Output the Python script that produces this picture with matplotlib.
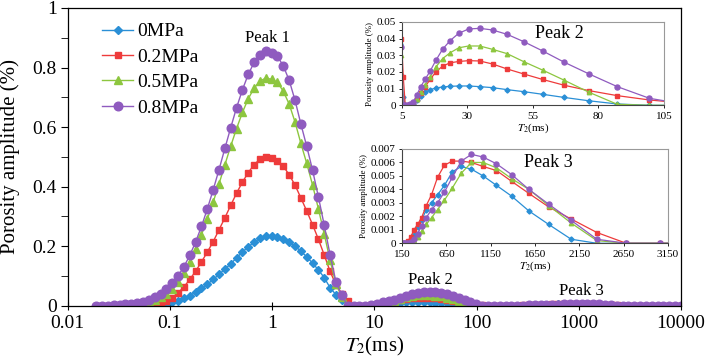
import matplotlib
matplotlib.use("Agg")
import matplotlib.pyplot as plt
from matplotlib.ticker import MultipleLocator, NullLocator

plt.rcParams['font.family'] = ['Liberation Serif', 'DejaVu Serif']
plt.rcParams['mathtext.fontset'] = 'stix'

# T2 grid (ms) of the NMR inversion
t2 = [0.0190, 0.02168, 0.02472, 0.02820, 0.03218, 0.03671, 0.04188, 0.04778, 0.05451, 0.06219,
      0.07095, 0.08094, 0.09234, 0.1053, 0.1202, 0.1371, 0.1564, 0.1784, 0.2035, 0.2322,
      0.2649, 0.3022, 0.3447, 0.3933, 0.4487, 0.5118, 0.5839, 0.6662, 0.7600, 0.8670,
      0.9888, 1.128, 1.287, 1.468, 1.675, 1.911, 2.180, 2.487, 2.837, 3.236,
      3.692, 4.212, 4.805, 5.482, 6.254, 7.135, 8.139, 9.285, 10.59, 12.08,
      13.79, 15.73, 17.94, 20.47, 23.35, 26.64, 30.39, 34.67, 39.55, 45.12,
      51.47, 58.72, 66.99, 76.42, 87.18, 99.45, 113.5, 129.4, 147.6, 168.4,
      192.1, 219.2, 250.0, 285.2, 325.4, 371.2, 423.5, 483.1, 551.1, 628.7,
      717.3, 818.3, 933.5, 1065, 1215, 1386, 1581, 1804, 2058, 2348,
      2679, 3056, 3486, 3977, 4537, 5176, 5904, 6736, 7684, 8766,
      10000]

amp_0mpa = [0, 0, 0, 0, 0, 0, 0, 0, 0, 0,
            0.002, 0.004, 0.007, 0.011, 0.017, 0.025, 0.034, 0.045, 0.058, 0.072,
            0.088, 0.105, 0.123, 0.14, 0.161, 0.18, 0.198, 0.213, 0.226, 0.234,
            0.235, 0.232, 0.225, 0.214, 0.2, 0.183, 0.164, 0.143, 0.12, 0.094,
            0.06, 0.037, 0.018, 0.005, 0, 0, 0, 0.001, 0.003, 0.0055,
            0.0078, 0.0094, 0.0104, 0.011, 0.0114, 0.0116, 0.0116, 0.0112, 0.0106, 0.0094,
            0.0082, 0.0066, 0.0047, 0.0027, 0.0008, 0, 0, 0, 0, 0,
            0, 0, 0.0002, 0.0006, 0.0012, 0.0017, 0.0025, 0.003, 0.0036, 0.0043,
            0.0053, 0.0057, 0.0055, 0.005, 0.0043, 0.0035, 0.0024, 0.0014, 0.0003, 0,
            0, 0, 0, 0, 0, 0, 0, 0, 0, 0,
            0]

amp_02mpa = [0, 0, 0, 0, 0, 0, 0, 0, 0, 0.002,
             0.005, 0.01, 0.017, 0.027, 0.043, 0.063, 0.088, 0.116, 0.147, 0.18,
             0.215, 0.255, 0.295, 0.337, 0.378, 0.415, 0.447, 0.474, 0.492, 0.5,
             0.497, 0.487, 0.468, 0.44, 0.405, 0.362, 0.318, 0.272, 0.223, 0.17,
             0.115, 0.07, 0.04, 0.017, 0, 0, 0, 0.001, 0.004, 0.0075,
             0.011, 0.0155, 0.02, 0.0235, 0.0255, 0.0263, 0.0268, 0.0266, 0.0248, 0.0218,
             0.0188, 0.0155, 0.012, 0.0088, 0.0058, 0.0032, 0.0012, 0, 0, 0,
             0, 0.0002, 0.0005, 0.001, 0.0014, 0.0019, 0.0028, 0.0036, 0.0049, 0.0058,
             0.0061, 0.0061, 0.006, 0.0057, 0.0054, 0.0046, 0.0037, 0.0027, 0.0018, 0.0008,
             0, 0, 0, 0, 0, 0, 0, 0, 0, 0,
             0]

amp_05mpa = [0, 0, 0, 0, 0, 0, 0.003, 0.005, 0.008, 0.012,
             0.019, 0.028, 0.04, 0.057, 0.08, 0.11, 0.148, 0.191, 0.238, 0.291,
             0.348, 0.409, 0.473, 0.536, 0.595, 0.649, 0.695, 0.731, 0.754, 0.765,
             0.76, 0.75, 0.72, 0.677, 0.617, 0.545, 0.478, 0.405, 0.325, 0.24,
             0.152, 0.072, 0.03, 0, 0, 0, 0, 0.001, 0.004, 0.008,
             0.012, 0.017, 0.023, 0.028, 0.0315, 0.0345, 0.0356, 0.0356, 0.0336, 0.031,
             0.0262, 0.0211, 0.015, 0.0078, 0.0006, 0, 0, 0, 0, 0,
             0, 0, 0, 0.0002, 0.0005, 0.0009, 0.0014, 0.0019, 0.0025, 0.0032,
             0.0041, 0.0052, 0.006, 0.006, 0.0056, 0.0048, 0.004, 0.0028, 0.0015, 0.0002,
             0, 0, 0, 0, 0, 0, 0, 0, 0, 0,
             0]

amp_08mpa = [0, 0, 0, 0.001, 0.002, 0.004, 0.006, 0.009, 0.013, 0.019,
             0.028, 0.039, 0.055, 0.075, 0.1, 0.131, 0.169, 0.214, 0.266, 0.325,
             0.389, 0.457, 0.528, 0.598, 0.665, 0.725, 0.777, 0.817, 0.843, 0.855,
             0.85, 0.838, 0.805, 0.757, 0.69, 0.61, 0.535, 0.455, 0.365, 0.27,
             0.17, 0.08, 0.035, 0, 0, 0, 0.0005, 0.002, 0.006, 0.011,
             0.0155, 0.0205, 0.027, 0.0336, 0.0388, 0.0432, 0.0458, 0.0462, 0.0452, 0.0426,
             0.0382, 0.0326, 0.0258, 0.0188, 0.0112, 0.0042, 0.0005, 0, 0, 0,
             0, 0, 0.0001, 0.0003, 0.0007, 0.0013, 0.0019, 0.0025, 0.003, 0.0038,
             0.0049, 0.0061, 0.0066, 0.0064, 0.0059, 0.0051, 0.004, 0.0029, 0.0017, 0.0003,
             0, 0, 0, 0, 0, 0, 0, 0, 0, 0,
             0]

labels = ['0MPa', '0.2MPa', '0.5MPa', '0.8MPa']
colors = ['#2a8fd6', '#ee3b3b', '#8dc63f', '#8f5bbf']
markers = ['D', 's', '^', 'o']
series = [amp_0mpa, amp_02mpa, amp_05mpa, amp_08mpa]

main_ms = [4.2, 4.5, 5.5, 6.2]
inset_ms = [2.6, 2.8, 3.2, 3.6]

fig = plt.figure(figsize=(7.06, 3.63), dpi=100)

# main chart
ax = fig.add_axes([0.0959, 0.1579, 0.8687, 0.8201])
for y, c, m, lab, ms in zip(series, colors, markers, labels, main_ms):
    ax.plot(t2, y, color=c, marker=m, ms=ms, mec=c, lw=1.0, label=lab)

ax.set_xscale('log')
ax.set_xlim(0.01, 10000)
ax.set_ylim(0, 1)
xt = [0.01, 0.1, 1, 10, 100, 1000, 10000]
ax.set_xticks(xt)
ax.set_xticklabels(['0.01', '0.1', '1', '10', '100', '1000', '10000'])
ax.xaxis.set_minor_locator(NullLocator())
ax.set_yticks([0, 0.2, 0.4, 0.6, 0.8, 1.0])
ax.set_yticklabels(['0', '0.2', '0.4', '0.6', '0.8', '1'])
ax.yaxis.set_minor_locator(MultipleLocator(0.1))
ax.tick_params(axis='x', direction='inout', length=6, labelsize=14, pad=4)
ax.tick_params(axis='y', which='both', direction='out', length=5, labelsize=14, pad=3)
for s in ax.spines.values():
    s.set_linewidth(0.9)
ax.set_xlabel('$T_2$(ms)', fontsize=15)
ax.xaxis.set_label_coords(0.5, -0.1)
ax.set_ylabel('Porosity amplitude (%)', fontsize=15)
ax.yaxis.set_label_coords(-0.077, 0.5)

ax.legend(loc='upper left', bbox_to_anchor=(0.056, 0.95), frameon=False,
          fontsize=14, handlelength=1.6, handletextpad=0.2, labelspacing=0.4,
          borderpad=0, borderaxespad=0)

ax.text(0.89, 0.9, 'Peak 1', fontsize=12, ha='center', va='center')
ax.text(35, 0.085, 'Peak 2', fontsize=12, ha='center', va='center')
ax.text(1070, 0.048, 'Peak 3', fontsize=12, ha='center', va='center')


def style_inset(a):
    a.spines['left'].set_color('#444444')
    a.spines['bottom'].set_color('#444444')
    a.spines['top'].set_color('#999999')
    a.spines['right'].set_color('#999999')
    for s in a.spines.values():
        s.set_linewidth(0.8)
    a.tick_params(axis='both', which='both', direction='out', length=2.5,
                  labelsize=8, pad=2, width=0.6)
    a.set_xlabel('$T_2$(ms)', fontsize=8, labelpad=1)
    a.set_ylabel('Porosity amplitude (%)', fontsize=6.5, labelpad=2)


# inset: Peak 2
ax2 = fig.add_axes([0.5694, 0.7099, 0.3711, 0.2295])
for y, c, m, ms in zip(series, colors, markers, inset_ms):
    ax2.plot(t2, y, color=c, marker=m, ms=ms, mec=c, lw=0.9)
ax2.set_xlim(5, 105)
ax2.set_ylim(0, 0.05)
ax2.set_xticks([5, 30, 55, 80, 105])
ax2.set_yticks([0, 0.01, 0.02, 0.03, 0.04, 0.05])
ax2.set_yticklabels(['0', '0.01', '0.02', '0.03', '0.04', '0.05'])
ax2.yaxis.set_minor_locator(MultipleLocator(0.005))
style_inset(ax2)
ax2.text(0.6, 0.86, 'Peak 2', transform=ax2.transAxes, fontsize=13,
         ha='center', va='center')

# inset: Peak 3
ax3 = fig.add_axes([0.5694, 0.3298, 0.3768, 0.2598])
for y, c, m, ms in zip(series, colors, markers, inset_ms):
    ax3.plot(t2, y, color=c, marker=m, ms=ms, mec=c, lw=0.9)
ax3.set_xlim(150, 3150)
ax3.set_ylim(0, 0.007)
ax3.set_xticks([150, 650, 1150, 1650, 2150, 2650, 3150])
ax3.set_yticks([0, 0.001, 0.002, 0.003, 0.004, 0.005, 0.006, 0.007])
ax3.set_yticklabels(['0', '0.001', '0.002', '0.003', '0.004', '0.005', '0.006', '0.007'])
style_inset(ax3)
ax3.text(0.55, 0.86, 'Peak 3', transform=ax3.transAxes, fontsize=13,
         ha='center', va='center')

fig.savefig('out.png', dpi=100)
